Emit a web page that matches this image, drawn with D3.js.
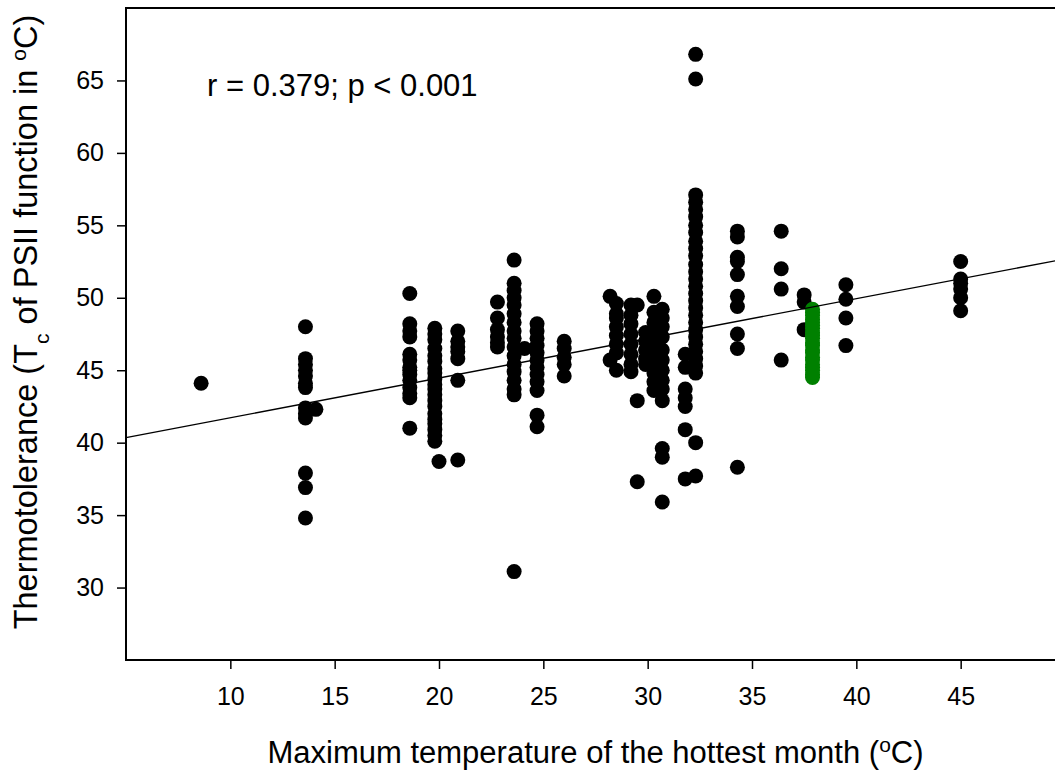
<!DOCTYPE html>
<html>
<head>
<meta charset="utf-8">
<script src="https://cdn.jsdelivr.net/npm/d3@7"></script>
<style>
  body { margin: 0; background: #fff; }
  text { font-family: "Liberation Sans", Arial, sans-serif; fill: #000; }
</style>
</head>
<body>
<div id="chart"></div>
<script>
// site temperature (x) and the Tc values measured at each site
const siteTemp = [8.6, 13.6, 14.1, 18.6, 19.8, 20.0, 20.9, 22.8, 23.6, 24.1, 24.7, 26.0,
                  28.2, 28.5, 29.2, 29.5, 29.9, 30.3, 30.7, 31.8, 32.3, 34.3, 36.4, 37.5, 39.5, 45.0];
const siteTc = [
  [44.1],
  [48.0, 45.8, 45.4, 45.0, 44.6, 44.1, 43.8, 42.4, 42.0, 41.7, 37.9, 36.9, 34.8],
  [42.3],
  [50.3, 48.2, 47.7, 47.3, 46.1, 45.7, 45.2, 45.0, 44.7, 44.3, 43.8, 43.4, 43.1, 41.0],
  [47.9, 47.5, 47.1, 46.5, 46.0, 45.6, 45.1, 44.8, 44.4, 44.0, 43.7, 43.3, 42.9, 42.5, 42.0, 41.6, 41.3, 40.9, 40.5, 40.1],
  [38.7],
  [47.7, 47.0, 46.6, 46.3, 45.8, 44.3, 38.8],
  [49.7, 48.6, 47.8, 47.3, 46.9, 46.6],
  [52.6, 51.0, 50.5, 50.0, 49.5, 48.9, 48.3, 47.7, 47.2, 46.6, 46.0, 45.4, 44.9, 44.3, 43.7, 43.3, 31.1],
  [46.5],
  [48.2, 47.7, 47.2, 46.7, 46.2, 45.7, 45.2, 44.7, 44.2, 43.6, 41.9, 41.1],
  [47.0, 46.5, 45.9, 45.4, 44.6],
  [50.1, 45.7],
  [49.6, 48.9, 48.6, 48.0, 47.4, 46.8, 46.2, 45.0],
  [49.5, 48.8, 48.2, 47.5, 46.8, 46.1, 45.4, 44.9],
  [49.5, 42.9, 37.3],
  [47.6, 47.0, 46.4, 45.8, 45.4],
  [50.1, 49.0, 48.3, 47.7, 47.1, 46.6, 46.0, 45.4, 44.8, 44.2, 43.6],
  [49.2, 48.6, 48.0, 47.3, 46.4, 45.7, 45.0, 44.3, 43.7, 42.9, 39.6, 39.0, 35.9],
  [46.1, 45.2, 43.7, 43.1, 42.5, 40.9, 37.5],
  [66.8, 65.1, 57.1, 56.6, 56.1, 55.6, 55.0, 54.5, 53.9, 53.4, 52.9, 52.3, 51.8, 51.3, 50.8, 50.3,
   49.8, 49.3, 48.8, 48.3, 47.8, 47.3, 46.8, 46.3, 45.8, 45.3, 44.8, 40.0, 37.7],
  [54.6, 54.2, 52.8, 52.5, 51.6, 50.1, 49.4, 47.5, 46.5, 38.3],
  [54.6, 52.0, 50.6, 45.7],
  [50.2, 49.7, 47.8],
  [50.9, 49.9, 48.6, 46.7],
  [52.5, 51.3, 51.0, 50.6, 50.0, 49.1]
];

// highlighted site (green)
const greenTemp = 37.9;
const greenTc = [49.2, 49.0, 48.8, 48.5, 48.3, 48.1, 47.9, 47.6, 47.4, 47.2, 46.9, 46.7,
                 46.4, 46.2, 45.9, 45.7, 45.4, 45.2, 45.0, 44.7, 44.5];

// regression line end points
const fitX = [5, 50];
const fitY = [40.35, 52.68];

const xTicks = [10, 15, 20, 25, 30, 35, 40, 45];
const yTicks = [30, 35, 40, 45, 50, 55, 60, 65];

const width = 1055, height = 776;
const plot = { left: 126, right: 1065, top: 8, bottom: 660 };

const svg = d3.select("#chart").append("svg")
    .attr("width", width)
    .attr("height", height);

const x = d3.scaleLinear().domain([5, 50]).range([plot.left, plot.right]);
const y = d3.scaleLinear().domain([25, 70]).range([plot.bottom, plot.top]);

// flatten columns into points
var points = [];
siteTemp.forEach((t, i) => siteTc[i].forEach(v => points.push({ x: t, y: v })));
var greenPoints = greenTc.map(v => ({ x: greenTemp, y: v }));

// frame
svg.append("rect")
    .attr("x", x(5))
    .attr("y", y(70))
    .attr("width", x(50) - x(5))
    .attr("height", y(25) - y(70))
    .attr("fill", "none")
    .attr("stroke", "#000")
    .attr("stroke-width", 2);

// axes
var xAxis = svg.append("g")
    .attr("transform", "translate(0," + y(25) + ")")
    .call(d3.axisBottom(x).tickValues(xTicks).tickSize(9).tickSizeOuter(0).tickPadding(18));
xAxis.select(".domain").remove();
xAxis.selectAll("line").attr("stroke-width", 1.5);
xAxis.selectAll("text").style("font-size", "25px").attr("font-family", null);

var yAxis = svg.append("g")
    .attr("transform", "translate(" + x(5) + ",0)")
    .call(d3.axisLeft(y).tickValues(yTicks).tickSize(9).tickSizeOuter(0).tickPadding(13));
yAxis.select(".domain").remove();
yAxis.selectAll("line").attr("stroke-width", 1.5);
yAxis.selectAll("text").style("font-size", "25px").attr("font-family", null);

// points
svg.append("g").selectAll("circle")
    .data(points)
    .enter()
    .append("circle")
    .attr("cx", d => x(d.x))
    .attr("cy", d => y(d.y))
    .attr("r", 7.5)
    .attr("fill", "#000");

svg.append("g").selectAll("circle")
    .data(greenPoints)
    .enter()
    .append("circle")
    .attr("cx", d => x(d.x))
    .attr("cy", d => y(d.y))
    .attr("r", 7.5)
    .attr("fill", "#008000");

// regression line
svg.append("line")
    .attr("x1", x(fitX[0]))
    .attr("y1", y(fitY[0]))
    .attr("x2", x(fitX[1]))
    .attr("y2", y(fitY[1]))
    .attr("stroke", "#000")
    .attr("stroke-width", 1.4);

// annotation
svg.append("text")
    .attr("x", 207)
    .attr("y", 96)
    .style("font-size", "31px")
    .text("r = 0.379; p < 0.001");

// x title
var xt = svg.append("text")
    .attr("x", (plot.left + plot.right) / 2)
    .attr("y", 763)
    .attr("text-anchor", "middle")
    .style("font-size", "31px");
xt.append("tspan").text("Maximum temperature of the hottest month (");
xt.append("tspan").attr("baseline-shift", "super").style("font-size", "21px").text("o");
xt.append("tspan").text("C)");

// y title
var yt = svg.append("text")
    .attr("transform", "translate(37," + 322 + ") rotate(-90)")
    .attr("text-anchor", "middle")
    .style("font-size", "32.5px");
yt.append("tspan").text("Thermotolerance (T");
yt.append("tspan").attr("baseline-shift", "sub").style("font-size", "21px").text("c");
yt.append("tspan").text(" of PSII function in ");
yt.append("tspan").attr("baseline-shift", "super").style("font-size", "21px").text("o");
yt.append("tspan").text("C)");
</script>
</body>
</html>
